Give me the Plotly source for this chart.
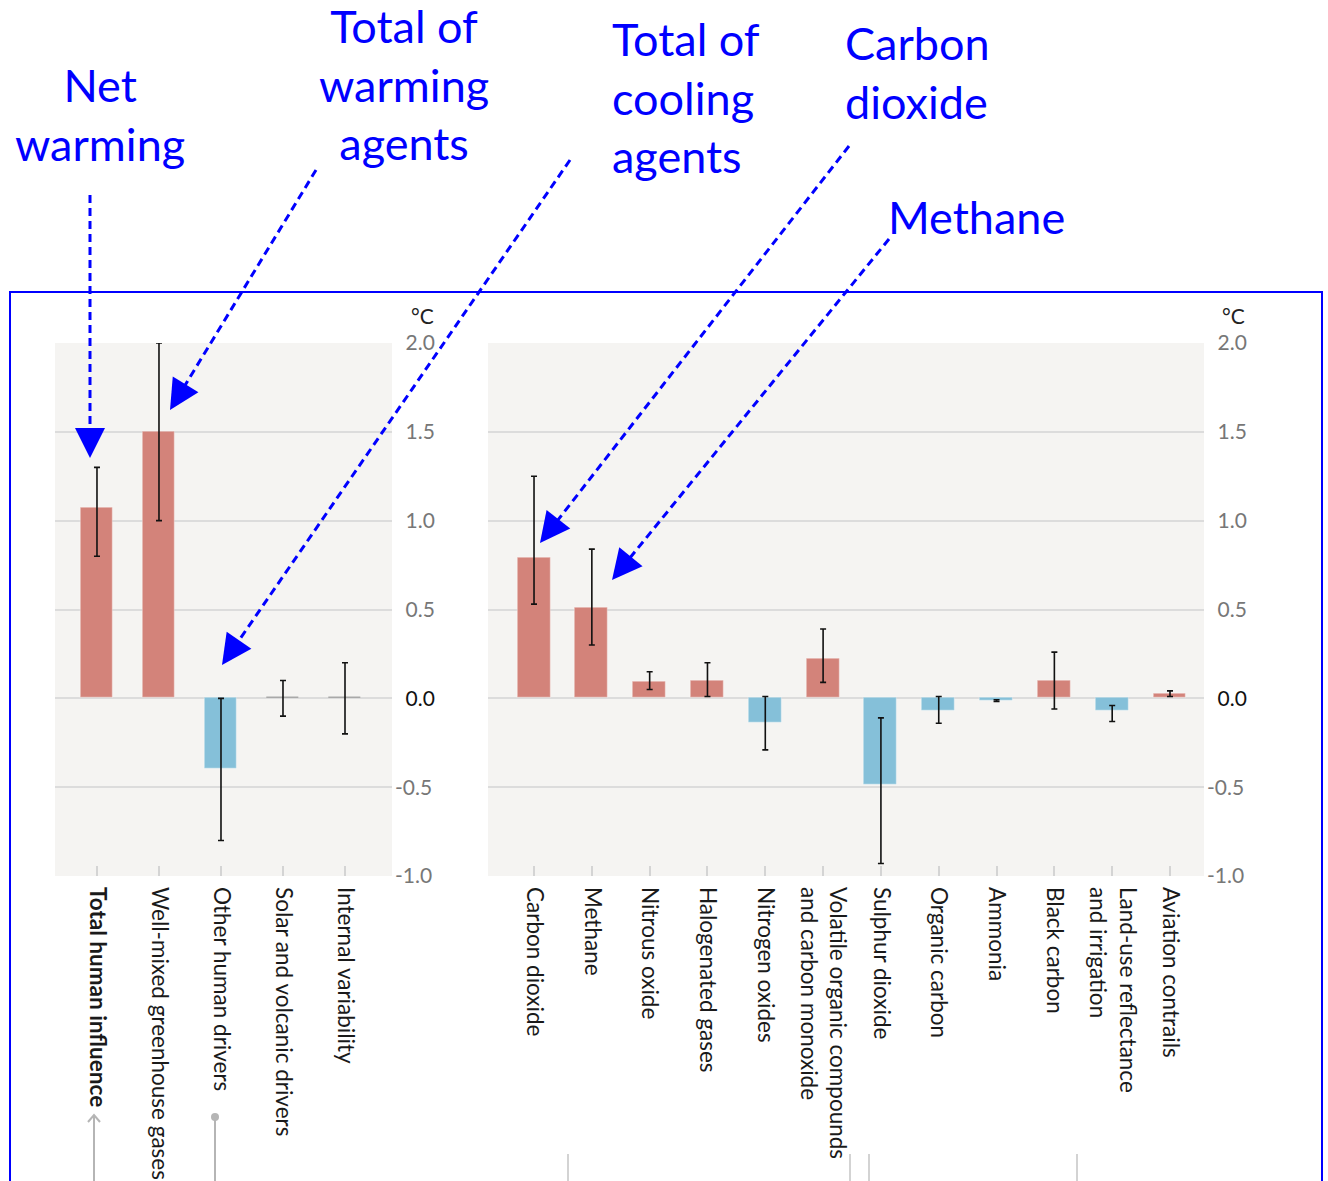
import plotly.graph_objects as go

# ---- data: contributions to observed warming (°C), best estimate and likely range ----
left_labels = ["<b>Total human influence</b>", "Well-mixed greenhouse gases",
               "Other human drivers", "Solar and volcanic drivers", "Internal variability"]
left_best = [1.07, 1.50, -0.40, 0.00, 0.00]
left_low = [0.80, 1.00, -0.80, -0.10, -0.20]
left_high = [1.30, 2.00, 0.00, 0.10, 0.20]

right_labels = ["Carbon dioxide", "Methane", "Nitrous oxide", "Halogenated gases",
                "Nitrogen oxides", "Volatile organic compounds<br>and carbon monoxide",
                "Sulphur dioxide", "Organic carbon", "Ammonia", "Black carbon",
                "Land-use reflectance<br>and irrigation", "Aviation contrails"]
right_best = [0.79, 0.51, 0.09, 0.10, -0.14, 0.22, -0.49, -0.07, -0.013, 0.10, -0.07, 0.027]
right_low = [0.53, 0.30, 0.05, 0.01, -0.29, 0.09, -0.93, -0.14, -0.018, -0.06, -0.13, 0.01]
right_high = [1.25, 0.84, 0.15, 0.20, 0.01, 0.39, -0.11, 0.01, -0.008, 0.26, -0.04, 0.042]

y_ticks = [-1.0, -0.5, 0.0, 0.5, 1.0, 1.5, 2.0]

WARM = "#d3837a"
COOL = "#85c0d9"
BLUE = "#0000ff"
W, H = 1328, 1181
FONT = "Lato"


def px(x):
    return x / W


def py(y):
    return 1 - y / H


def bar_colors(vals):
    return [WARM if v > 0 else (COOL if v < 0 else "rgba(0,0,0,0)") for v in vals]


def bar_trace(labels, best, low, high, xa, ya, width):
    return go.Bar(
        x=labels, y=best, xaxis=xa, yaxis=ya, width=width,
        marker=dict(color=bar_colors(best),
                    line=dict(color=["#a9a9a9" if v == 0 else "rgba(255,255,255,0.25)" for v in best],
                              width=1.4)),
        error_y=dict(type="data", symmetric=False,
                     array=[h - b for h, b in zip(high, best)],
                     arrayminus=[b - l for b, l in zip(best, low)],
                     color="#111111", thickness=1.6, width=3),
        showlegend=False, hoverinfo="skip",
    )


fig = go.Figure()
fig.add_trace(bar_trace(left_labels, left_best, left_low, left_high, "x", "y", 0.52))
fig.add_trace(bar_trace(right_labels, right_best, right_low, right_high, "x2", "y2", 0.57))

tick_text = [("\u2002" if v >= 0 else "") + f"{v:.1f}" for v in y_ticks]
tick_text = [f"<span style='color:#111111'>{t}</span>" if v == 0 else t
             for t, v in zip(tick_text, y_ticks)]

yaxis_common = dict(range=[-1, 2], tickvals=y_ticks, ticktext=tick_text, side="right",
                    showgrid=True, gridcolor="#dcdcdc", gridwidth=2, zeroline=False,
                    ticks="", showline=False, ticklabelstandoff=2, automargin=False,
                    tickfont=dict(family=FONT, size=21, color="#777777"),
                    domain=[py(876), py(343)], fixedrange=True)
xaxis_common = dict(type="category", tickangle=90, ticks="inside", ticklen=10,
                    tickcolor="#d4d4d4", tickwidth=2, showgrid=False, showline=False,
                    zeroline=False, tickfont=dict(family=FONT, size=22.5, color="#1a1a1a"),
                    ticklabelstandoff=10, automargin=False, fixedrange=True)

fig.update_layout(
    width=W, height=H, margin=dict(l=0, r=0, t=0, b=0, autoexpand=False),
    paper_bgcolor="white", plot_bgcolor="#f5f4f2",
    bargap=0,
    xaxis=dict(xaxis_common, domain=[px(55), px(392)], range=[-0.677, 4.758], anchor="y"),
    yaxis=dict(yaxis_common, anchor="x"),
    xaxis2=dict(xaxis_common, domain=[px(488), px(1204)], range=[-0.796, 11.588], anchor="y2"),
    yaxis2=dict(yaxis_common, anchor="x2"),
)

shapes = []
annotations = []

# unit labels above each y axis
for xr in (436, 1247):
    annotations.append(dict(text="°C", x=px(xr), y=py(315), xref="paper", yref="paper",
                            xanchor="right", yanchor="middle", showarrow=False,
                            font=dict(family=FONT, size=21, color="#222222")))

# blue frame around the chart
shapes.append(dict(type="rect", xref="paper", yref="paper",
                   x0=px(10), x1=px(1322), y0=py(1195), y1=py(292),
                   line=dict(color=BLUE, width=2), fillcolor="rgba(0,0,0,0)"))

# callout labels
callouts = [
    ("Net<br>warming", 100, 114, "center"),
    ("Total of<br>warming<br>agents", 404, 84, "center"),
    ("Total of<br>cooling<br>agents", 610, 98, "left"),
    ("Carbon<br>dioxide", 843, 73, "left"),
    ("Methane", 886, 217, "left"),
]
for text, x, y, anchor in callouts:
    annotations.append(dict(text=text, x=px(x), y=py(y), xref="paper", yref="paper",
                            xanchor=anchor, yanchor="middle", align=anchor, showarrow=False,
                            font=dict(family=FONT, size=45, color=BLUE)))

# dashed pointer arrows (start, tip)
pointers = [((90, 195), (90, 458)),
            ((316, 170), (170, 410)),
            ((570, 160), (222, 665)),
            ((849, 146), (540, 543)),
            ((889, 239), (612, 580))]
for (x0, y0), (x1, y1) in pointers:
    dx, dy = x1 - x0, y1 - y0
    n = (dx * dx + dy * dy) ** 0.5
    ux, uy = dx / n, dy / n
    head = 16
    shapes.append(dict(type="line", xref="paper", yref="paper",
                       x0=px(x0), y0=py(y0), x1=px(x1 - ux * head), y1=py(y1 - uy * head),
                       line=dict(color=BLUE, width=3, dash="8px,5px")))
    annotations.append(dict(text="", x=px(x1), y=py(y1), xref="paper", yref="paper",
                            ax=-ux * 20, ay=-uy * 20, axref="pixel", ayref="pixel",
                            showarrow=True, arrowhead=2, arrowsize=2.0, arrowwidth=3,
                            arrowcolor=BLUE))

# grey grouping markers below the category labels
GREY = "#b5b5b5"
shapes.append(dict(type="line", xref="paper", yref="paper", x0=px(94), x1=px(94),
                   y0=py(1181), y1=py(1115), line=dict(color=GREY, width=2)))
shapes.append(dict(type="path", xref="paper", yref="paper",
                   path=f"M {px(88)} {py(1122)} L {px(94)} {py(1115)} L {px(100)} {py(1122)}",
                   line=dict(color=GREY, width=2)))
shapes.append(dict(type="line", xref="paper", yref="paper", x0=px(215), x1=px(215),
                   y0=py(1181), y1=py(1117), line=dict(color=GREY, width=2)))
shapes.append(dict(type="circle", xref="paper", yref="paper", x0=px(211), x1=px(219),
                   y0=py(1121), y1=py(1113), fillcolor=GREY, line=dict(color=GREY, width=0)))
for xl in (568, 850, 869, 1077):
    shapes.append(dict(type="line", xref="paper", yref="paper", x0=px(xl), x1=px(xl),
                       y0=py(1181), y1=py(1154), line=dict(color="#c4c4c4", width=1.5)))

fig.update_layout(shapes=shapes, annotations=annotations)

fig.write_html("out.html")
